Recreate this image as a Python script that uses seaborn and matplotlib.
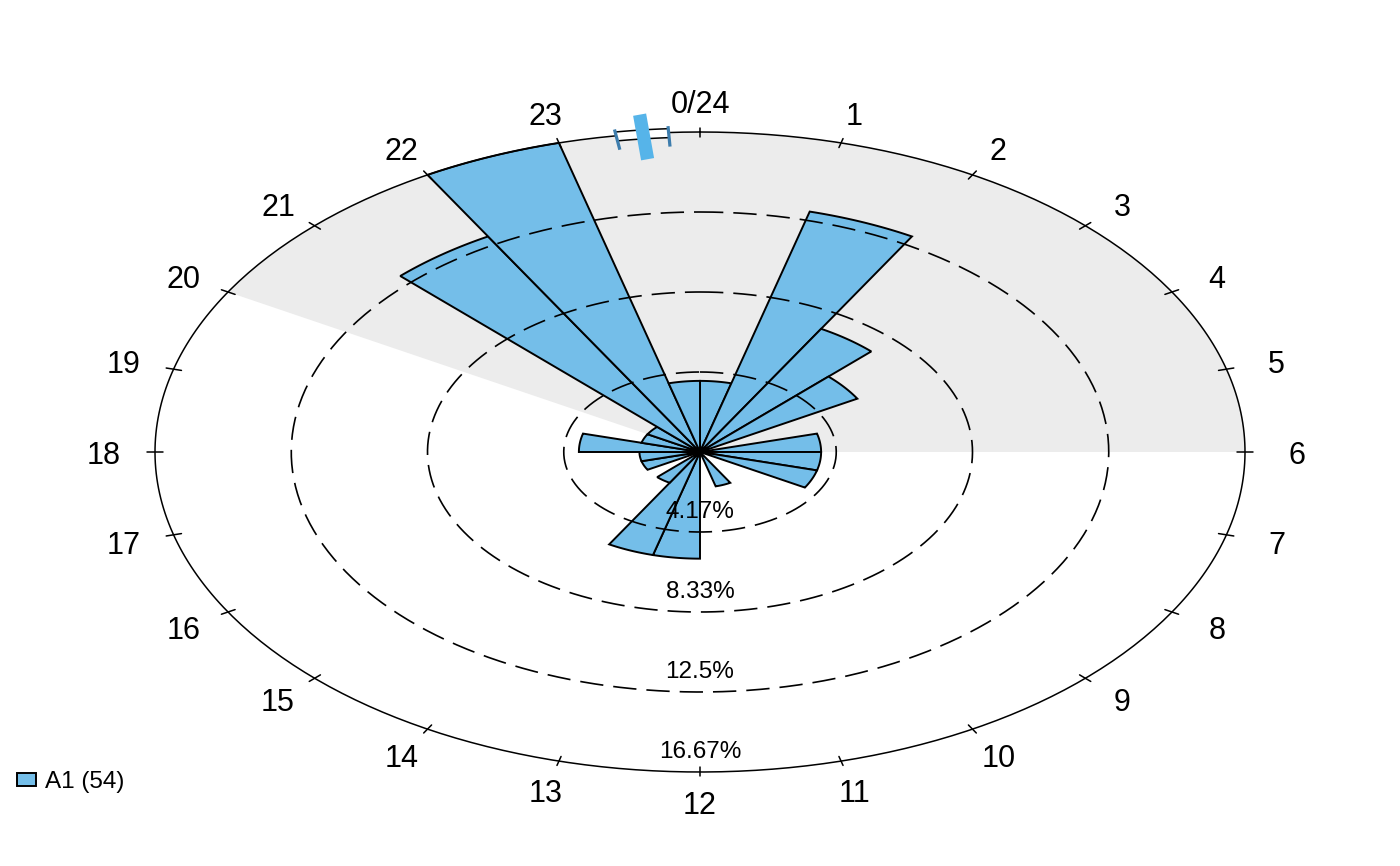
import numpy as np
import matplotlib
matplotlib.use("Agg")
import matplotlib.pyplot as plt
from matplotlib.patches import Polygon, Patch
import seaborn as sns

# hourly counts for A1 (bins 0-1, 1-2, ... 23-24)
hours = np.arange(24)
counts = np.array([2, 7, 4, 3, 0, 2, 2, 2, 0, 0, 1, 0,
                   3, 3, 1, 0, 1, 1, 2, 1, 1, 7, 9, 2])
group_name = "A1"
hour_labels = ["0/24"] + [str(h) for h in range(1, 24)]
ring_fracs = [0.25, 0.5, 0.75, 1.0]
night_start, night_end = 20, 30  # shaded from 20h round to 6h
mean_hour = 23.6
ci_hours = (23.41, 23.78)

bar_col = "#74BEE9"
mean_col = "#56B4E9"
ci_col = "#3D7DAD"
shade_col = "#ECECEC"

sns.set_theme(style="white")
plt.rcParams['font.family'] = ['Liberation Sans', 'DejaVu Sans']
plt.rcParams['text.color'] = 'black'

n = counts.sum()
pct = counts / n * 100
pmax = pct.max()
rad = pct / pmax  # outer circle = largest bin


def xy(hour, r):
    th = np.asarray(hour) / 24 * 2 * np.pi
    return r * np.sin(th), r * np.cos(th)


def arc(h0, h1, r, k=60):
    hh = np.linspace(h0, h1, k)
    return np.column_stack(xy(hh, r))


fig = plt.figure(figsize=(14, 8.66), dpi=100)
ax = fig.add_axes([0, 0, 1, 1])
ax.set_xlim(-700 / 545, 700 / 545)
ax.set_ylim((452 - 866) / 320, 452 / 320)
ax.axis("off")

# night shading
pts = np.vstack([[0, 0], arc(night_start, night_end, 1.0, 200)])
ax.add_patch(Polygon(pts, closed=True, facecolor=shade_col, edgecolor="none", zorder=0))

# outer circle
ring = arc(0, 24, 1.0, 400)
ax.plot(ring[:, 0], ring[:, 1], color="black", lw=1.1, zorder=4)

# rose bars
for h, r in zip(hours, rad):
    if r <= 0:
        continue
    pts = np.vstack([[0, 0], arc(h, h + 1, r, 30)])
    ax.add_patch(Polygon(pts, closed=True, facecolor=bar_col, edgecolor="black",
                         lw=1.4, joinstyle="miter", zorder=2))

# dashed rings + labels
for f in ring_fracs:
    if f < 1:
        c = arc(0, 24, f, 400)
        ax.plot(c[:, 0], c[:, 1], color="black", lw=1.2, ls=(0, (14, 6)), zorder=3)
    lab = f"{pmax * f:.2f}".rstrip("0").rstrip(".") + "%"
    ax.text(0, -f + 0.069, lab, ha="center", va="center_baseline", fontsize=17.5, zorder=5)

# hour ticks and labels
for h in hours:
    x0, y0 = xy(h, 0.985)
    x1, y1 = xy(h, 1.014)
    ax.plot([x0, x1], [y0, y1], color="black", lw=1.1, zorder=4)
    lx, ly = xy(h, 1.095)
    ax.text(lx, ly, hour_labels[h], ha="center", va="center_baseline", fontsize=22)

# confidence interval of the mean
band = np.vstack([arc(ci_hours[0], ci_hours[1], 1.012, 30),
                  arc(ci_hours[1], ci_hours[0], 0.984, 30)])
ax.add_patch(Polygon(band, closed=True, facecolor="white", edgecolor="black",
                     lw=1.1, zorder=5))
for ch in ci_hours:
    x0, y0 = xy(ch, 0.956)
    x1, y1 = xy(ch, 1.02)
    ax.plot([x0, x1], [y0, y1], color=ci_col, lw=2.3, solid_capstyle="butt", zorder=6)

# mean direction
x0, y0 = xy(mean_hour, 0.92)
x1, y1 = xy(mean_hour, 1.06)
ax.plot([x0, x1], [y0, y1], color=mean_col, lw=9.5, solid_capstyle="butt", zorder=7)

# legend
handle = Patch(facecolor=bar_col, edgecolor="black", lw=1.4)
fig.legend([handle], [f"{group_name} ({n})"], loc="center left",
           bbox_to_anchor=(17 / 1400, 1 - 782 / 866), frameon=False,
           fontsize=17.5, handlelength=0.8, handleheight=0.45,
           handletextpad=0.35, borderpad=0, borderaxespad=0)

fig.savefig("out.png", dpi=100)
